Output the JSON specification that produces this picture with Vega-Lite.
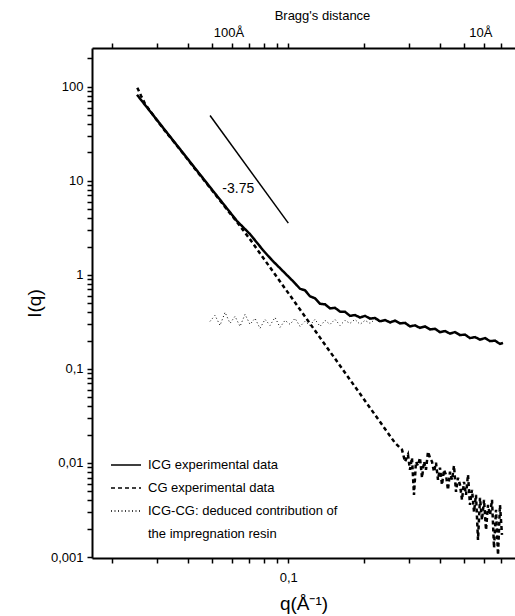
{
  "$schema": "https://vega.github.io/schema/vega-lite/v6.json",
  "width": 423,
  "height": 510,
  "autosize": {"type": "none"},
  "padding": {"left": 92, "top": 48, "right": 0, "bottom": 58},
  "background": "white",
  "config": {
    "view": {"stroke": null},
    "font": "Liberation Sans",
    "axis": {"labelFont": "Liberation Sans", "titleFont": "Liberation Sans", "labelColor": "black", "titleColor": "black", "domainColor": "black", "domainWidth": 2, "tickColor": "black", "tickWidth": 1.5, "grid": false, "labelFontSize": 13, "labelOverlap": false, "titleFontWeight": "normal"},
    "legend": {"labelFont": "Liberation Sans"}
  },
  "datasets": {
    "curves": [
      {"s": "RES", "q": 0.04889, "I": 0.3201}, {"s": "RES", "q": 0.05117, "I": 0.3710}, {"s": "RES", "q": 0.05358, "I": 0.2902}, {"s": "RES", "q": 0.05609, "I": 0.3993}, {"s": "RES", "q": 0.05871, "I": 0.3048}, {"s": "RES", "q": 0.06145, "I": 0.3620}, {"s": "RES", "q": 0.06433, "I": 0.2831}, {"s": "RES", "q": 0.06734, "I": 0.3802}, {"s": "RES", "q": 0.07047, "I": 0.2973}, {"s": "RES", "q": 0.07379, "I": 0.3446}, {"s": "RES", "q": 0.07721, "I": 0.2695}, {"s": "RES", "q": 0.08082, "I": 0.3362}, {"s": "RES", "q": 0.08460, "I": 0.2902}, {"s": "RES", "q": 0.08857, "I": 0.3532}, {"s": "RES", "q": 0.09271, "I": 0.2762}, {"s": "RES", "q": 0.09703, "I": 0.3281}, {"s": "RES", "q": 0.1016, "I": 0.2973}, {"s": "RES", "q": 0.1063, "I": 0.3446}, {"s": "RES", "q": 0.1113, "I": 0.2831}, {"s": "RES", "q": 0.1165, "I": 0.3201}, {"s": "RES", "q": 0.1219, "I": 0.2902}, {"s": "RES", "q": 0.1276, "I": 0.3362}, {"s": "RES", "q": 0.1336, "I": 0.2831}, {"s": "RES", "q": 0.1399, "I": 0.3281}, {"s": "RES", "q": 0.1464, "I": 0.2973}, {"s": "RES", "q": 0.1532, "I": 0.3362}, {"s": "RES", "q": 0.1604, "I": 0.2902}, {"s": "RES", "q": 0.1679, "I": 0.3281}, {"s": "RES", "q": 0.1757, "I": 0.3048}, {"s": "RES", "q": 0.1839, "I": 0.3362}, {"s": "RES", "q": 0.1926, "I": 0.2973}, {"s": "RES", "q": 0.2016, "I": 0.3281}, {"s": "RES", "q": 0.2110, "I": 0.3048}, {"s": "RES", "q": 0.2208, "I": 0.3362}, {"s": "RES", "q": 0.2311, "I": 0.3124}, {"s": "RES", "q": 0.2419, "I": 0.3281}, {"s": "RES", "q": 0.2533, "I": 0.3048}, {"s": "RES", "q": 0.2651, "I": 0.3201}, {"s": "RES", "q": 0.2776, "I": 0.3048},

      {"s": "CG", "q": 0.02516, "I": 97.6}, {"s": "CG", "q": 0.02603, "I": 80.2}, {"s": "CG", "q": 0.02699, "I": 65.9}, {"s": "CG", "q": 0.02958, "I": 46.7}, {"s": "CG", "q": 0.03241, "I": 33.9}, {"s": "CG", "q": 0.03552, "I": 25.0}, {"s": "CG", "q": 0.03891, "I": 18.38}, {"s": "CG", "q": 0.04264, "I": 13.36}, {"s": "CG", "q": 0.04670, "I": 9.83}, {"s": "CG", "q": 0.05117, "I": 7.23}, {"s": "CG", "q": 0.05609, "I": 5.26}, {"s": "CG", "q": 0.06257, "I": 3.64}, {"s": "CG", "q": 0.07047, "I": 2.385}, {"s": "CG", "q": 0.07935, "I": 1.525}, {"s": "CG", "q": 0.09271, "I": 0.8505}, {"s": "CG", "q": 0.1113, "I": 0.4277}, {"s": "CG", "q": 0.1336, "I": 0.2150}, {"s": "CG", "q": 0.1604, "I": 0.1082}, {"s": "CG", "q": 0.1926, "I": 0.05439}, {"s": "CG", "q": 0.2311, "I": 0.02736}, {"s": "CG", "q": 0.2651, "I": 0.01634},
      {"s": "CG", "q": 0.2826, "I": 0.01383}, {"s": "CG", "q": 0.2905, "I": 0.01030}, {"s": "CG", "q": 0.2985, "I": 0.01223}, {"s": "CG", "q": 0.3040, "I": 0.00846}, {"s": "CG", "q": 0.3096, "I": 0.01136}, {"s": "CG", "q": 0.3153, "I": 0.00458}, {"s": "CG", "q": 0.3211, "I": 0.01030}, {"s": "CG", "q": 0.3271, "I": 0.00934}, {"s": "CG", "q": 0.3331, "I": 0.01136}, {"s": "CG", "q": 0.3393, "I": 0.00696}, {"s": "CG", "q": 0.3455, "I": 0.01030}, {"s": "CG", "q": 0.3519, "I": 0.00846}, {"s": "CG", "q": 0.3584, "I": 0.01316}, {"s": "CG", "q": 0.3650, "I": 0.01136}, {"s": "CG", "q": 0.3718, "I": 0.01030}, {"s": "CG", "q": 0.3786, "I": 0.00806}, {"s": "CG", "q": 0.3856, "I": 0.01005}, {"s": "CG", "q": 0.3927, "I": 0.00662}, {"s": "CG", "q": 0.3999, "I": 0.00889}, {"s": "CG", "q": 0.4073, "I": 0.00586}, {"s": "CG", "q": 0.4148, "I": 0.00846}, {"s": "CG", "q": 0.4225, "I": 0.00748}, {"s": "CG", "q": 0.4302, "I": 0.00518}, {"s": "CG", "q": 0.4382, "I": 0.00806}, {"s": "CG", "q": 0.4463, "I": 0.00662}, {"s": "CG", "q": 0.4545, "I": 0.00934}, {"s": "CG", "q": 0.4629, "I": 0.00493}, {"s": "CG", "q": 0.4714, "I": 0.00696}, {"s": "CG", "q": 0.4801, "I": 0.00586}, {"s": "CG", "q": 0.4890, "I": 0.00405}, {"s": "CG", "q": 0.4980, "I": 0.00630}, {"s": "CG", "q": 0.5072, "I": 0.00458}, {"s": "CG", "q": 0.5166, "I": 0.00748}, {"s": "CG", "q": 0.5260, "I": 0.00358}, {"s": "CG", "q": 0.5358, "I": 0.00518}, {"s": "CG", "q": 0.5457, "I": 0.00302}, {"s": "CG", "q": 0.5557, "I": 0.00458}, {"s": "CG", "q": 0.5660, "I": 0.00152}, {"s": "CG", "q": 0.5765, "I": 0.00425}, {"s": "CG", "q": 0.5871, "I": 0.00248}, {"s": "CG", "q": 0.5980, "I": 0.00405}, {"s": "CG", "q": 0.6090, "I": 0.00194}, {"s": "CG", "q": 0.6203, "I": 0.00358}, {"s": "CG", "q": 0.6317, "I": 0.00280}, {"s": "CG", "q": 0.6433, "I": 0.00405}, {"s": "CG", "q": 0.6553, "I": 0.00125}, {"s": "CG", "q": 0.6673, "I": 0.00317}, {"s": "CG", "q": 0.6796, "I": 0.00105}, {"s": "CG", "q": 0.6920, "I": 0.00358}, {"s": "CG", "q": 0.7047, "I": 0.00172},

      {"s": "ICG", "q": 0.02509, "I": 82.2}, {"s": "ICG", "q": 0.02699, "I": 64.1}, {"s": "ICG", "q": 0.02958, "I": 47.1}, {"s": "ICG", "q": 0.03241, "I": 34.5}, {"s": "ICG", "q": 0.03552, "I": 25.3}, {"s": "ICG", "q": 0.03891, "I": 18.57}, {"s": "ICG", "q": 0.04264, "I": 13.6}, {"s": "ICG", "q": 0.04670, "I": 10.0}, {"s": "ICG", "q": 0.05117, "I": 7.34}, {"s": "ICG", "q": 0.05609, "I": 5.39}, {"s": "ICG", "q": 0.06257, "I": 3.73}, {"s": "ICG", "q": 0.07047, "I": 2.71}, {"s": "ICG", "q": 0.07935, "I": 1.83}, {"s": "ICG", "q": 0.08616, "I": 1.431}, {"s": "ICG", "q": 0.09271, "I": 1.176}, {"s": "ICG", "q": 0.09703, "I": 1.040}, {"s": "ICG", "q": 0.1016, "I": 0.9201}, {"s": "ICG", "q": 0.1063, "I": 0.8138}, {"s": "ICG", "q": 0.1113, "I": 0.7109}, {"s": "ICG", "q": 0.1165, "I": 0.6852}, {"s": "ICG", "q": 0.1219, "I": 0.5912}, {"s": "ICG", "q": 0.1276, "I": 0.5629}, {"s": "ICG", "q": 0.1336, "I": 0.4918}, {"s": "ICG", "q": 0.1399, "I": 0.4859}, {"s": "ICG", "q": 0.1464, "I": 0.4404}, {"s": "ICG", "q": 0.1532, "I": 0.4459}, {"s": "ICG", "q": 0.1604, "I": 0.4063}, {"s": "ICG", "q": 0.1679, "I": 0.4043}, {"s": "ICG", "q": 0.1757, "I": 0.3664}, {"s": "ICG", "q": 0.1839, "I": 0.3737}, {"s": "ICG", "q": 0.1926, "I": 0.3514}, {"s": "ICG", "q": 0.2016, "I": 0.3664}, {"s": "ICG", "q": 0.2110, "I": 0.3420}, {"s": "ICG", "q": 0.2208, "I": 0.3479}, {"s": "ICG", "q": 0.2311, "I": 0.3209}, {"s": "ICG", "q": 0.2419, "I": 0.3305}, {"s": "ICG", "q": 0.2533, "I": 0.3124}, {"s": "ICG", "q": 0.2651, "I": 0.3257}, {"s": "ICG", "q": 0.2776, "I": 0.3048}, {"s": "ICG", "q": 0.2905, "I": 0.3085}, {"s": "ICG", "q": 0.3040, "I": 0.2831}, {"s": "ICG", "q": 0.3182, "I": 0.2902}, {"s": "ICG", "q": 0.3331, "I": 0.2729}, {"s": "ICG", "q": 0.3487, "I": 0.2831}, {"s": "ICG", "q": 0.3650, "I": 0.2630}, {"s": "ICG", "q": 0.3821, "I": 0.2670}, {"s": "ICG", "q": 0.3999, "I": 0.2456}, {"s": "ICG", "q": 0.4186, "I": 0.2523}, {"s": "ICG", "q": 0.4382, "I": 0.2373}, {"s": "ICG", "q": 0.4586, "I": 0.2462}, {"s": "ICG", "q": 0.4801, "I": 0.2287}, {"s": "ICG", "q": 0.5025, "I": 0.2316}, {"s": "ICG", "q": 0.5260, "I": 0.2125}, {"s": "ICG", "q": 0.5507, "I": 0.2178}, {"s": "ICG", "q": 0.5765, "I": 0.2048}, {"s": "ICG", "q": 0.6034, "I": 0.2125}, {"s": "ICG", "q": 0.6317, "I": 0.1974}, {"s": "ICG", "q": 0.6610, "I": 0.1998}, {"s": "ICG", "q": 0.6920, "I": 0.1842}, {"s": "ICG", "q": 0.7112, "I": 0.1888}
    ],
    "annot": [
      {"k": "slope", "q": 0.0489, "I": 49.4, "t": ""},
      {"k": "slope", "q": 0.1, "I": 3.55, "t": ""},
      {"k": "note", "q": 0.0633, "I": 8.18, "t": "-3.75"}
    ]
  },
  "layer": [
    {
      "data": {"name": "curves"},
      "mark": {"type": "line", "clip": true, "color": "black", "strokeCap": "butt"},
      "encoding": {
        "x": {"field": "q", "type": "quantitative",
          "scale": {"type": "log", "domain": [0.01663, 0.7937], "nice": false},
          "axis": {"orient": "bottom", "ticks": true, "tickSize": 5,
            "values": [0.02, 0.03, 0.04, 0.05, 0.06, 0.07, 0.08, 0.09, 0.1, 0.2, 0.3, 0.4, 0.5, 0.6, 0.7],
            "labelExpr": "datum.value == 0.1 ? '0,1' : ''",
            "labelPadding": 8,
            "title": "q(Å⁻¹)", "titleFontSize": 19, "titlePadding": 10}},
        "y": {"field": "I", "type": "quantitative",
          "scale": {"type": "log", "domain": [0.000976, 258], "nice": false},
          "axis": {"orient": "left", "ticks": true, "tickSize": 5,
            "values": [0.001, 0.002, 0.003, 0.004, 0.005, 0.006, 0.007, 0.008, 0.009, 0.01, 0.02, 0.03, 0.04, 0.05, 0.06, 0.07, 0.08, 0.09, 0.1, 0.2, 0.3, 0.4, 0.5, 0.6, 0.7, 0.8, 0.9, 1, 2, 3, 4, 5, 6, 7, 8, 9, 10, 20, 30, 40, 50, 60, 70, 80, 90, 100, 200],
            "labelExpr": "datum.value == 100 ? '100' : datum.value == 10 ? '10' : datum.value == 1 ? '1' : datum.value == 0.1 ? '0,1' : datum.value == 0.01 ? '0,01' : datum.value == 0.001 ? '0,001' : ''",
            "labelPadding": 4,
            "title": "I(q)", "titleFontSize": 19, "titlePadding": 6}},
        "strokeDash": {"field": "s", "type": "nominal",
          "scale": {"domain": ["ICG", "CG", "RES", "RES2"], "range": [[1, 0], [4, 3], [1, 2.5], [0, 100]]},
          "legend": {"orient": "none", "legendX": 18, "legendY": 401, "title": null,
            "symbolType": "stroke", "symbolSize": 900, "symbolStrokeWidth": 1.6, "symbolStrokeColor": "black",
            "labelFontSize": 13, "labelColor": "black", "labelOffset": 6, "rowPadding": -5, "labelLimit": 400,
            "labelExpr": "datum.label == 'ICG' ? 'ICG experimental data' : datum.label == 'CG' ? 'CG experimental data' : datum.label == 'RES' ? 'ICG-CG: deduced contribution of' : 'the impregnation resin'"}},
        "strokeWidth": {"condition": {"test": "datum.s == 'RES'", "value": 1}, "value": 2.5}
      }
    },
    {
      "data": {"name": "annot"},
      "encoding": {
        "x": {"field": "q", "type": "quantitative",
          "scale": {"type": "log", "domain": [0.01663, 0.7937], "nice": false},
          "axis": {"orient": "top", "ticks": true, "tickSize": 5,
            "values": [0.02, 0.03, 0.04, 0.05, 0.06, 0.07, 0.08, 0.09, 0.1, 0.2, 0.3, 0.4, 0.5, 0.6, 0.7],
            "labelExpr": "datum.value == 0.06 ? '100Å' : datum.value == 0.6 ? '10Å' : ''",
            "labelOffset": -4, "labelPadding": 4,
            "title": "Bragg's distance", "titleFontSize": 13, "titleX": 230, "titleY": -26, "titleAnchor": null, "titleAlign": "center"}},
        "y": {"field": "I", "type": "quantitative"}
      },
      "layer": [
        {"transform": [{"filter": "datum.k == 'slope'"}], "mark": {"type": "line", "color": "black", "strokeWidth": 1.5, "clip": true}},
        {"transform": [{"filter": "datum.k == 'note'"}], "mark": {"type": "text", "fontSize": 14, "color": "black", "font": "Liberation Sans"}, "encoding": {"text": {"field": "t"}}}
      ]
    }
  ],
  "resolve": {"axis": {"x": "independent"}}
}
